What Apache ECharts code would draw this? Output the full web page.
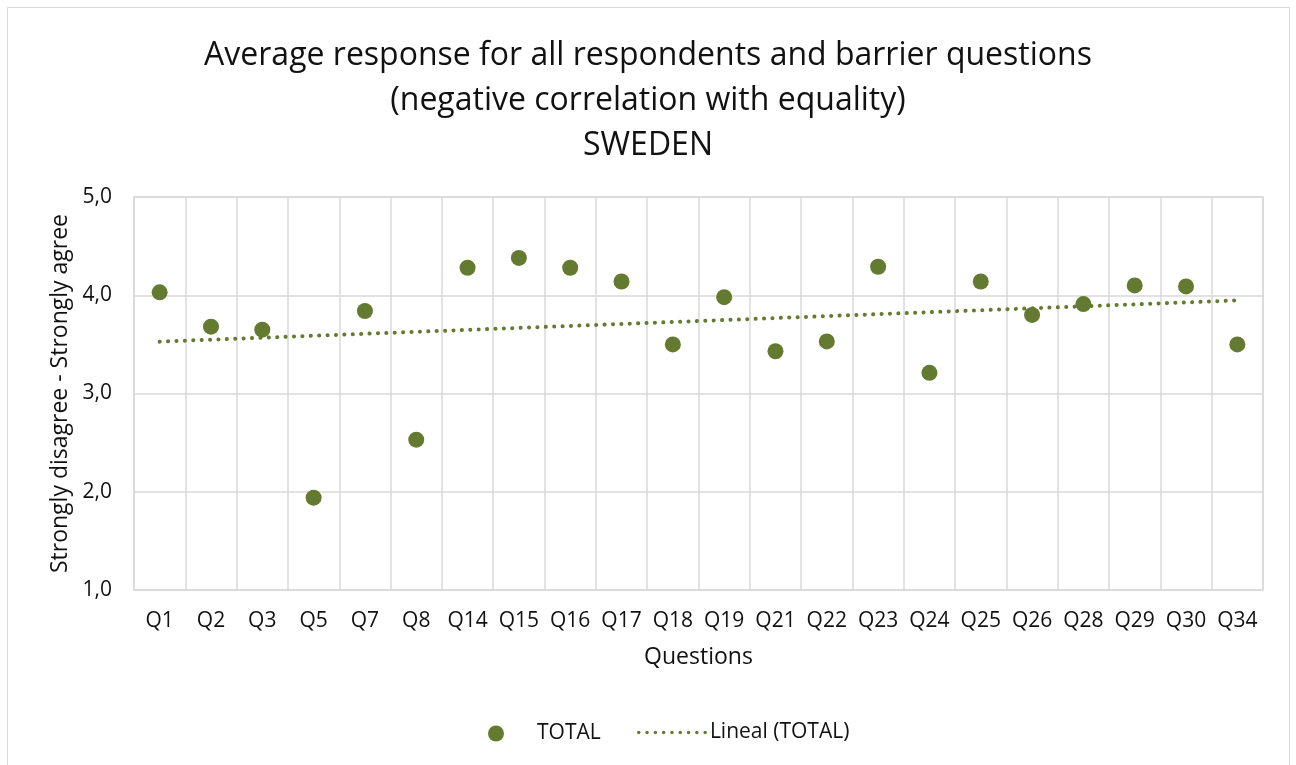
<!DOCTYPE html>
<html>
<head>
<meta charset="utf-8">
<script src="https://cdn.jsdelivr.net/npm/echarts@6/dist/echarts.min.js"></script>
<style>
  html, body { margin: 0; padding: 0; background: #fff; }
  #chart { width: 1296px; height: 765px; }
</style>
</head>
<body>
<div id="chart"></div>
<script>
// data
const questions = ["Q1", "Q2", "Q3", "Q5", "Q7", "Q8", "Q14", "Q15", "Q16", "Q17", "Q18",
  "Q19", "Q21", "Q22", "Q23", "Q24", "Q25", "Q26", "Q28", "Q29", "Q30", "Q34"];
const totalValues = [4.03, 3.68, 3.65, 1.94, 3.84, 2.53, 4.28, 4.38, 4.28, 4.14, 3.50,
  3.98, 3.43, 3.53, 4.29, 3.21, 4.14, 3.80, 3.91, 4.10, 4.09, 3.50];
const yTicks = [1, 2, 3, 4, 5];

const green = "#637a30";
const font = "Open Sans";

// linear trend (like the spreadsheet's "Lineal" trendline)
function trendEnds(vals) {
  let n = vals.length, sx = 0, sy = 0, sxy = 0, sxx = 0;
  vals.forEach((v, i) => { sx += i; sy += v; sxy += i * v; sxx += i * i; });
  let b = (n * sxy - sx * sy) / (n * sxx - sx * sx);
  let a = (sy - b * sx) / n;
  return [[0, a], [n - 1, a + b * (n - 1)]];
}

// dotted legend icon: 9 round dots
let dots = "path://";
for (let i = 0; i < 9; i++) {
  let cx = i * 8.3 + 1.75;
  dots += `M${cx - 1.75},1.75 a1.75,1.75 0 1,0 3.5,0 a1.75,1.75 0 1,0 -3.5,0 Z `;
}

let myChart = echarts.init(document.getElementById("chart"));
let option = {
  animation: false,
  textStyle: { fontFamily: font },
  graphic: [{
    type: "rect",
    shape: { x: 7.5, y: 7.5, width: 1282, height: 800 },
    style: { fill: "none", stroke: "#d9d9d9", lineWidth: 1 },
    silent: true
  }],
  title: {
    text: "Average response for all respondents and barrier questions\n(negative correlation with equality)\nSWEDEN",
    left: "center",
    top: 28,
    textStyle: { fontFamily: font, fontSize: 32, fontWeight: "normal", color: "#111", lineHeight: 45 }
  },
  legend: [
    {
      data: [{ name: "TOTAL", icon: "circle" }],
      left: 483, top: 718,
      itemWidth: 16, itemHeight: 16,
      textStyle: { fontFamily: font, fontSize: 21, color: "#111", padding: [0, 0, 0, 28] }
    },
    {
      data: [{ name: "Lineal (TOTAL)", icon: dots }],
      left: 632, top: 717,
      itemWidth: 69.9, itemHeight: 3.5,
      itemGap: 3,
      itemStyle: { color: green },
      textStyle: { fontFamily: font, fontSize: 21, color: "#111", padding: [0, 0, 0, -2] }
    }
  ],
  grid: { left: 134, right: 33, top: 197, bottom: 175, show: true, borderColor: "#d9d9d9", borderWidth: 1.5 },
  xAxis: {
    type: "category",
    data: questions,
    boundaryGap: true,
    name: "Questions",
    nameLocation: "middle",
    nameGap: 56,
    nameTextStyle: { fontFamily: font, fontSize: 23, color: "#111" },
    axisLine: { show: false },
    axisTick: { show: false },
    axisLabel: { fontSize: 21, color: "#111", margin: 21, interval: 0 },
    splitLine: { show: true, interval: 0, lineStyle: { color: "#d9d9d9", width: 1.5 } }
  },
  yAxis: {
    type: "value",
    min: yTicks[0],
    max: yTicks[yTicks.length - 1],
    interval: 1,
    name: "Strongly disagree - Strongly agree",
    nameLocation: "middle",
    nameGap: 61,
    nameTextStyle: { fontFamily: font, fontSize: 23, color: "#111" },
    axisLine: { show: false },
    axisTick: { show: false },
    axisLabel: {
      fontSize: 21, color: "#111", margin: 22,
      formatter: (v) => v.toFixed(1).replace(".", ",")
    },
    splitLine: { lineStyle: { color: "#d9d9d9", width: 1.5 } }
  },
  series: [
    {
      name: "TOTAL",
      type: "scatter",
      data: totalValues,
      symbolSize: 16,
      itemStyle: { color: green, opacity: 1 },
      z: 3
    },
    {
      name: "Lineal (TOTAL)",
      type: "line",
      data: trendEnds(totalValues),
      symbol: "none",
      itemStyle: { color: green },
      lineStyle: { color: green, width: 4, type: [0.1, 8.3], cap: "round" },
      z: 2
    }
  ]
};
myChart.setOption(option);
</script>
</body>
</html>
